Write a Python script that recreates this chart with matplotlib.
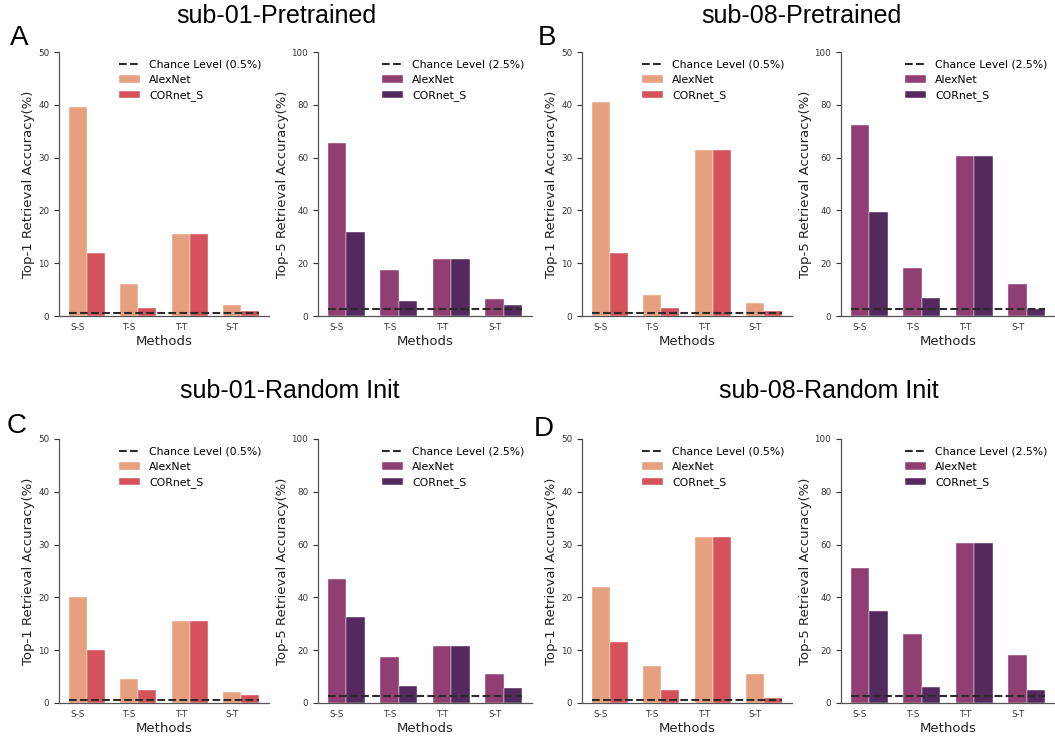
"""Top-1 / Top-5 retrieval accuracy bars, 4 panels (sub-01 / sub-08, pretrained / random init)."""

import numpy as np
import matplotlib
matplotlib.use("Agg")
import matplotlib.pyplot as plt

plt.rcParams["font.family"] = ["DejaVu Sans"]

methods = ["S-S", "T-S", "T-T", "S-T"]
models = ["AlexNet", "CORnet_S"]

# sub-01 pretrained
s01_pre_top1_alex = [39.5, 6.0, 15.5, 2.0]
s01_pre_top1_corn = [12.0, 1.5, 15.5, 1.0]
s01_pre_top5_alex = [65.5, 17.5, 21.5, 6.5]
s01_pre_top5_corn = [32.0, 5.5, 21.5, 4.0]
# sub-08 pretrained
s08_pre_top1_alex = [40.5, 4.0, 31.5, 2.5]
s08_pre_top1_corn = [12.0, 1.5, 31.5, 1.0]
s08_pre_top5_alex = [72.5, 18.0, 60.5, 12.0]
s08_pre_top5_corn = [39.5, 7.0, 60.5, 2.5]
# sub-01 random init
s01_rnd_top1_alex = [20.0, 4.5, 15.5, 2.0]
s01_rnd_top1_corn = [10.0, 2.5, 15.5, 1.5]
s01_rnd_top5_alex = [47.0, 17.5, 21.5, 11.0]
s01_rnd_top5_corn = [32.5, 6.5, 21.5, 5.5]
# sub-08 random init
s08_rnd_top1_alex = [22.0, 7.0, 31.5, 5.5]
s08_rnd_top1_corn = [11.5, 2.5, 31.5, 1.0]
s08_rnd_top5_alex = [51.0, 26.0, 60.5, 18.0]
s08_rnd_top5_corn = [35.0, 6.0, 60.5, 5.0]

chance_top1 = 0.5
chance_top5 = 2.5

TOP1_COLORS = ["#E6A07F", "#D4525A"]
TOP5_COLORS = ["#913F72", "#53295E"]

W, H = 1055, 736


def rect(left, top, bottom, width):
    return [left / W, 1 - bottom / H, width / W, (bottom - top) / H]


def draw_bars(ax, alex, corn, colors, chance, ymax, ylabel):
    x = np.arange(len(methods))
    w = 0.35
    ax.bar(x, alex, w, color=colors[0], label=models[0], edgecolor="white", linewidth=0.3)
    ax.bar(x + w, corn, w, color=colors[1], label=models[1], edgecolor="white", linewidth=0.3)
    ax.plot([x[0] - w / 2, x[-1] + 1.5 * w], [chance, chance], ls="--", color="#2b2b2b",
            lw=1.5, label=f"Chance Level ({chance}%)", zorder=3)
    ax.set_ylim(0, ymax)
    ax.set_yticks(np.linspace(0, ymax, 6))
    ax.set_xticks(x)
    ax.set_xticklabels(methods)
    ax.tick_params(axis="x", length=0, labelsize=6.3, pad=5, colors="#333333")
    ax.tick_params(axis="y", length=3.5, width=0.8, labelsize=6.3, colors="#333333")
    ax.set_ylabel(ylabel, fontsize=9.5, color="#222222", labelpad=2)
    ax.set_xlabel("Methods", fontsize=9.5, color="#222222", labelpad=2)
    for s in ("top", "right"):
        ax.spines[s].set_visible(False)
    for s in ("left", "bottom"):
        ax.spines[s].set_color("#555555")
        ax.spines[s].set_linewidth(0.9)
    ax.legend(frameon=False, loc="upper right", fontsize=7.8, borderaxespad=0.3)


fig = plt.figure(figsize=(W / 100, H / 100), dpi=100)

panels = [
    ("A", "sub-01-Pretrained", 0, 52, 316, 276, 16, (10, 45),
     s01_pre_top1_alex, s01_pre_top1_corn, s01_pre_top5_alex, s01_pre_top5_corn),
    ("B", "sub-08-Pretrained", 523, 52, 316, 801, 16, (538, 45),
     s08_pre_top1_alex, s08_pre_top1_corn, s08_pre_top5_alex, s08_pre_top5_corn),
    ("C", "sub-01-Random Init", 0, 439, 703, 290, 391, (7, 433),
     s01_rnd_top1_alex, s01_rnd_top1_corn, s01_rnd_top5_alex, s01_rnd_top5_corn),
    ("D", "sub-08-Random Init", 523, 439, 703, 829, 391, (534, 436),
     s08_rnd_top1_alex, s08_rnd_top1_corn, s08_rnd_top5_alex, s08_rnd_top5_corn),
]

for letter, title, dx, top, bottom, tx, ty, (lx, ly), a1, c1, a5, c5 in panels:
    ax1 = fig.add_axes(rect(59 + dx, top, bottom, 210))
    ax2 = fig.add_axes(rect(318 + dx, top, bottom, 214))
    draw_bars(ax1, a1, c1, TOP1_COLORS, chance_top1, 50, "Top-1 Retrieval Accuracy(%)")
    draw_bars(ax2, a5, c5, TOP5_COLORS, chance_top5, 100, "Top-5 Retrieval Accuracy(%)")
    fig.text(tx / W, 1 - ty / H, title, ha="center", va="center", fontsize=18,
             family=["Liberation Sans", "DejaVu Sans"])
    fig.text(lx / W, 1 - ly / H, letter, ha="left", va="baseline", fontsize=20,
             family=["Liberation Sans", "DejaVu Sans"])

fig.savefig("out.png", dpi=100)
plt.close(fig)
